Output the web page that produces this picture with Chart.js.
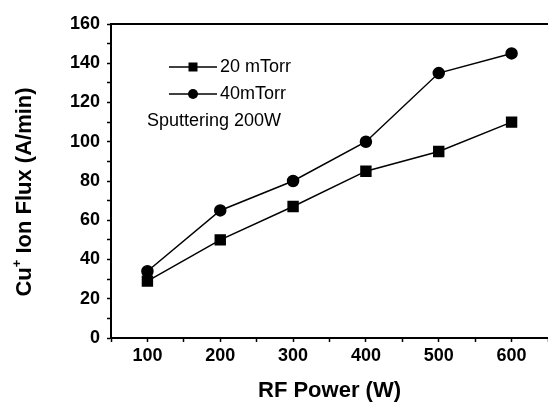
<!DOCTYPE html>
<html lang="en">
<head>
    <meta charset="UTF-8">
    <title>Cu+ Ion Flux vs RF Power</title>
    <style>
        body {
            margin: 0;
            background-color: #fff;
        }
        #chart-box {
            width: 548px;
            height: 403px;
        }
    </style>
    <script src="https://cdn.jsdelivr.net/npm/chart.js"></script>
</head>
<body>
    <div id="chart-box">
        <canvas id="flux-chart" width="548" height="403"></canvas>
    </div>

    <script>
        // Values
        const rfPower = [100, 200, 300, 400, 500, 600];
        const flux20 = [29, 50, 67, 85, 95, 110];
        const flux40 = [34, 65, 80, 100, 135, 145];
        const seriesNames = ['20 mTorr', '40mTorr'];
        const noteText = 'Sputtering 200W';
        const xTitle = 'RF Power (W)';
        const yTitle = ['Cu', '+', ' Ion Flux (A/min)'];

        const fontFamily = "'Liberation Sans', Arial, sans-serif";

        const toPoints = (ys) => rfPower.map((x, i) => ({ x: x, y: ys[i] }));

        // Frame top line, inset legend, rotated y title with superscript
        const overlay = {
            id: 'overlay',
            afterDraw(chart) {
                const ctx = chart.ctx;
                const area = chart.chartArea;
                ctx.save();
                ctx.strokeStyle = '#000';
                ctx.fillStyle = '#000';

                ctx.lineWidth = 2;
                ctx.beginPath();
                ctx.moveTo(area.left, area.top);
                ctx.lineTo(chart.width, area.top);
                ctx.stroke();

                // legend
                const lx = area.left + 58;
                const rows = [area.top + 43, area.top + 70];
                ctx.lineWidth = 1.5;
                ctx.font = '18px ' + fontFamily;
                ctx.textBaseline = 'middle';
                ctx.textAlign = 'left';
                seriesNames.forEach((name, i) => {
                    const y = rows[i];
                    ctx.beginPath();
                    ctx.moveTo(lx, y);
                    ctx.lineTo(lx + 48, y);
                    ctx.stroke();
                    ctx.beginPath();
                    if (i === 0) {
                        ctx.rect(lx + 24 - 4.5, y - 4.5, 9, 9);
                    } else {
                        ctx.arc(lx + 24, y, 5, 0, Math.PI * 2);
                    }
                    ctx.fill();
                    ctx.fillText(name, lx + 51, y);
                });
                ctx.fillText(noteText, area.left + 36, area.top + 97);

                // y axis title
                ctx.translate(25, 192);
                ctx.rotate(-Math.PI / 2);
                const big = 'bold 22px ' + fontFamily;
                const small = 'bold 13px ' + fontFamily;
                ctx.font = big;
                const w0 = ctx.measureText(yTitle[0]).width;
                const w2 = ctx.measureText(yTitle[2]).width;
                ctx.font = small;
                const w1 = ctx.measureText(yTitle[1]).width;
                let x = -(w0 + w1 + w2) / 2;
                ctx.font = big;
                ctx.fillText(yTitle[0], x, 0);
                x += w0;
                ctx.font = small;
                ctx.fillText(yTitle[1], x, -8);
                x += w1;
                ctx.font = big;
                ctx.fillText(yTitle[2], x, 0);
                ctx.restore();
            }
        };

        const fluxChart = new Chart(document.getElementById('flux-chart'), {
            type: 'line',
            data: {
                datasets: [
                    {
                        label: seriesNames[0],
                        data: toPoints(flux20),
                        borderColor: '#000',
                        backgroundColor: '#000',
                        borderWidth: 1.5,
                        pointStyle: 'rect',
                        pointRadius: 7,
                        pointHoverRadius: 7
                    },
                    {
                        label: seriesNames[1],
                        data: toPoints(flux40),
                        borderColor: '#000',
                        backgroundColor: '#000',
                        borderWidth: 1.5,
                        pointStyle: 'circle',
                        pointRadius: 5.5,
                        pointHoverRadius: 5.5
                    }
                ]
            },
            options: {
                responsive: false,
                animation: false,
                devicePixelRatio: 1,
                layout: {
                    autoPadding: false,
                    padding: { top: 24, right: 0, left: 0, bottom: 0 }
                },
                plugins: {
                    legend: { display: false },
                    tooltip: { enabled: false }
                },
                scales: {
                    x: {
                        type: 'linear',
                        min: 50,
                        max: 650,
                        afterBuildTicks: (scale) => {
                            scale.ticks = scale.ticks.filter(t => t.value % 50 === 0);
                        },
                        afterFit: (scale) => {
                            scale.height = 65;
                            scale.paddingLeft = 0;
                            scale.paddingRight = 0;
                        },
                        ticks: {
                            stepSize: 50,
                            padding: 3,
                            color: '#000',
                            font: { family: fontFamily, size: 18, weight: 'bold' },
                            maxRotation: 0,
                            autoSkip: false,
                            callback: (v) => (v % 100 === 0 && v >= 100 && v <= 600) ? String(v) : ''
                        },
                        grid: {
                            drawOnChartArea: false,
                            drawTicks: true,
                            tickLength: 4,
                            tickWidth: 1.5,
                            tickColor: '#000'
                        },
                        border: { color: '#000', width: 2 },
                        title: {
                            display: true,
                            text: xTitle,
                            color: '#000',
                            padding: 0,
                            font: { family: fontFamily, size: 22, weight: 'bold', lineHeight: 1.1 }
                        }
                    },
                    y: {
                        min: 0,
                        max: 160,
                        afterFit: (scale) => {
                            scale.width = 111;
                            scale.paddingTop = 0;
                            scale.paddingBottom = 0;
                        },
                        ticks: {
                            stepSize: 10,
                            padding: 7,
                            color: '#000',
                            font: { family: fontFamily, size: 18, weight: 'bold' },
                            autoSkip: false,
                            callback: (v) => v % 20 === 0 ? String(v) : ''
                        },
                        grid: {
                            drawOnChartArea: false,
                            drawTicks: true,
                            tickLength: 4,
                            tickWidth: 1.5,
                            tickColor: '#000'
                        },
                        border: { color: '#000', width: 2 }
                    }
                }
            },
            plugins: [overlay]
        });
    </script>
</body>
</html>
